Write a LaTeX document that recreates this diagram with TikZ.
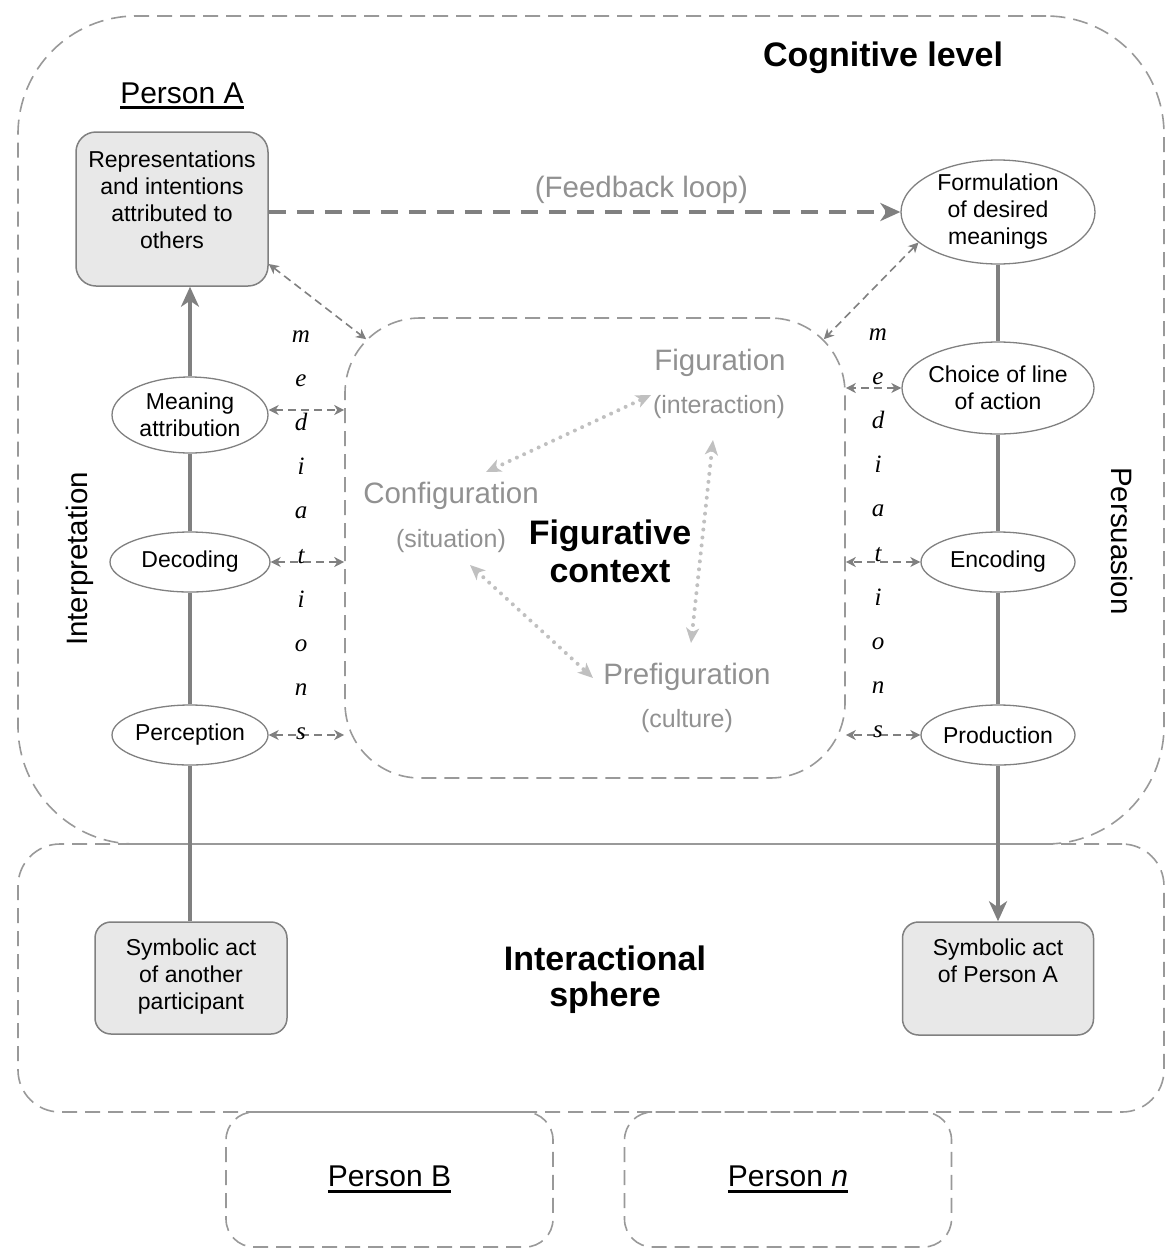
\documentclass[tikz,border=0pt]{standalone}
\usepackage{fontspec}
\setmainfont{Liberation Sans}
\newfontfamily\medfont{Liberation Serif}
\usetikzlibrary{arrows.meta,shapes.geometric,calc}
\definecolor{lgray}{RGB}{128,128,128}
\definecolor{fgray}{RGB}{153,153,153}
\definecolor{dgray}{RGB}{192,192,192}
\definecolor{tgray}{RGB}{145,145,145}
\definecolor{bfill}{RGB}{232,232,232}
\newcommand\fsz[2]{\fontsize{#1pt}{#2pt}\selectfont}
\newcommand\myul[1]{\setbox0=\hbox{#1}\rlap{\rule[-6pt]{\wd0}{3pt}}\box0}
\begin{document}
\begin{tikzpicture}[x=1pt,y=-1pt,
  frame/.style={draw=fgray, line width=1.6pt, dash pattern=on 15pt off 8pt, inner sep=0pt},
  actbox/.style={draw=lgray, fill=bfill, line width=1.5pt, rounded corners=20pt, align=center, inner sep=0pt, font=\fsz{23}{27}},
  oval/.style={ellipse, draw=lgray, fill=white, line width=1.3pt, inner xsep=-4pt, inner ysep=-6pt, align=center, font=\fsz{23}{27}},
  flow/.style={draw=lgray, line width=4pt},
  flowtip/.style={-{Stealth[length=20pt,width=18pt,inset=6pt]}},
  med/.style={draw=lgray, line width=1.6pt, dash pattern=on 8pt off 5pt, {Stealth[length=10pt,width=10pt,inset=3pt]}-{Stealth[length=10pt,width=10pt,inset=3pt]}},
  dots/.style={draw=dgray, line width=4pt, line cap=round, dash pattern=on 0pt off 8pt, {Stealth[length=15pt,width=13pt,inset=4pt]}-{Stealth[length=15pt,width=13pt,inset=4pt]}},
  figtxt/.style={text=tgray, inner sep=0pt},
  medl/.style={font=\medfont\itshape\fsz{25}{29}, anchor=base, inner sep=0pt},
  title/.style={font=\bfseries\fsz{34}{38}, align=center, inner sep=0pt}
]
\useasboundingbox (0,0) rectangle (1166,1248);

% frames
\node[frame, rounded corners=42pt, minimum width=1146pt, minimum height=268pt] (inter) at (591,978) {};
\node[frame, rounded corners=118pt, minimum width=1146pt, minimum height=828pt] (cog) at (591,430) {};
\node[frame, rounded corners=28pt, minimum width=327pt, minimum height=135pt, font=\fsz{30}{36}] (pb) at (389.5,1179.5) {\myul{Person B}};
\node[frame, rounded corners=28pt, minimum width=327pt, minimum height=135pt, font=\fsz{30}{36}] (pn) at (788,1179.5) {\myul{Person \textit{n}}};
\node[frame, rounded corners=75pt, minimum width=500pt, minimum height=460pt] (fig) at (595,548) {};

% titles
\node[title] (cogt) at (883,58) {Cognitive level};
\node[font=\fsz{30}{36}, inner sep=0pt] (pa) at (182,96) {\myul{Person A}};
\node[title] (figt) at (610,551) {Figurative\\context};
\node[title, font=\bfseries\fsz{34}{36}] (intt) at (605,980) {Interactional\\sphere};
\node[rotate=90, font=\fsz{29.5}{34}, inner sep=0pt] (interp) at (80,559) {Interpretation};
\node[rotate=-90, font=\fsz{29.5}{34}, inner sep=0pt] (pers) at (1122,541) {Persuasion};

% figurative context texts
\node[figtxt, font=\fsz{29.5}{34}] (figu) at (720,363) {Figuration};
\node[figtxt, font=\fsz{25}{30}] (figus) at (719,407) {(interaction)};
\node[figtxt, font=\fsz{29.5}{34}] (conf) at (451,496) {Configuration};
\node[figtxt, font=\fsz{25}{30}] (confs) at (451,541) {(situation)};
\node[figtxt, font=\fsz{29.5}{34}] (pref) at (687,677) {Prefiguration};
\node[figtxt, font=\fsz{25}{30}] (prefs) at (687,721) {(culture)};

% act boxes
\node[actbox, minimum width=192pt, minimum height=154pt] (rep) at (172,209) {Representations\\and intentions\\attributed to\\others\\[-9pt]\mbox{}};
\node[actbox, rounded corners=16pt, minimum width=192pt, minimum height=112pt] (symo) at (191,978) {Symbolic act\\of another\\participant\\[-20pt]\mbox{}};
\node[actbox, rounded corners=16pt, minimum width=191pt, minimum height=113pt] (syma) at (998,978.5) {Symbolic act\\of Person A\\[8pt]\mbox{}};

% ovals
\node[oval, minimum width=194pt, minimum height=104pt] (form) at (998,212) {Formulation\\of desired\\meanings};
\node[oval, minimum width=192pt, minimum height=92pt] (choice) at (998,388) {Choice of line\\of action};
\node[oval, minimum width=154pt, minimum height=60pt] (enc) at (998,562) {Encoding};
\node[oval, minimum width=154pt, minimum height=60pt] (prod) at (998,735) {Production};
\node[oval, minimum width=156pt, minimum height=76pt] (mean) at (190,415) {Meaning\\attribution};
\node[oval, minimum width=160pt, minimum height=60pt] (dec) at (190,562) {Decoding};
\node[oval, minimum width=156pt, minimum height=60pt] (perc) at (190,735) {Perception};

% flow lines
\draw[flow] (perc.south |- symo.north) -- (perc.south);
\draw[flow] (perc.north) -- (dec.south);
\draw[flow] (dec.north) -- (mean.south);
\draw[flow, flowtip] (mean.north) -- (mean.north |- rep.south);
\draw[flow] (form.south) -- (choice.north);
\draw[flow] (choice.south) -- (enc.north);
\draw[flow] (enc.south) -- (prod.north);
\draw[flow, flowtip] (prod.south) -- (syma.north);

% feedback loop
\draw[draw=lgray, line width=4.5pt, dash pattern=on 17pt off 11pt, -{Stealth[length=20pt,width=18pt,inset=6pt]}]
  (rep.east |- form.west) -- node[pos=0.59, above=6pt, text=tgray, font=\fsz{29.5}{34}, inner sep=0pt] (fbl) {(Feedback loop)} (form.west);

% mediations
\coordinate (figNW) at ($(fig.north west)+(22,22)$);
\coordinate (figNE) at ($(fig.north east)+(-22,22)$);
\draw[med] ([yshift=-55pt]rep.east) -- (figNW);
\draw[med] (form.201) -- (figNE);
\draw[med] ([yshift=5pt]mean.east) -- ([yshift=5pt]mean.east -| fig.west);
\draw[med] (dec.east) -- (dec.east -| fig.west);
\draw[med] (perc.east) -- (perc.east -| fig.west);
\draw[med] (choice.west) -- (choice.west -| fig.east);
\draw[med] (enc.west) -- (enc.west -| fig.east);
\draw[med] (prod.west) -- (prod.west -| fig.east);

\foreach \l [count=\k from 0] in {m,e,d,i,a,t,i,o,n,s} {
  \node[medl] (ml\k) at (301, 342+44.2*\k) {\l};
  \node[medl] (mr\k) at (878, 340+44.2*\k) {\l};
}

% dotted relations
\coordinate (d1a) at (486,472);
\coordinate (d1b) at (651,395);
\coordinate (d2a) at (713,440);
\coordinate (d2b) at (691,643);
\coordinate (d3a) at (470,565);
\coordinate (d3b) at (593,678);
\draw[dots] (d1a) -- (d1b);
\draw[dots] (d2a) -- (d2b);
\draw[dots] (d3a) -- (d3b);
\end{tikzpicture}
\end{document}
